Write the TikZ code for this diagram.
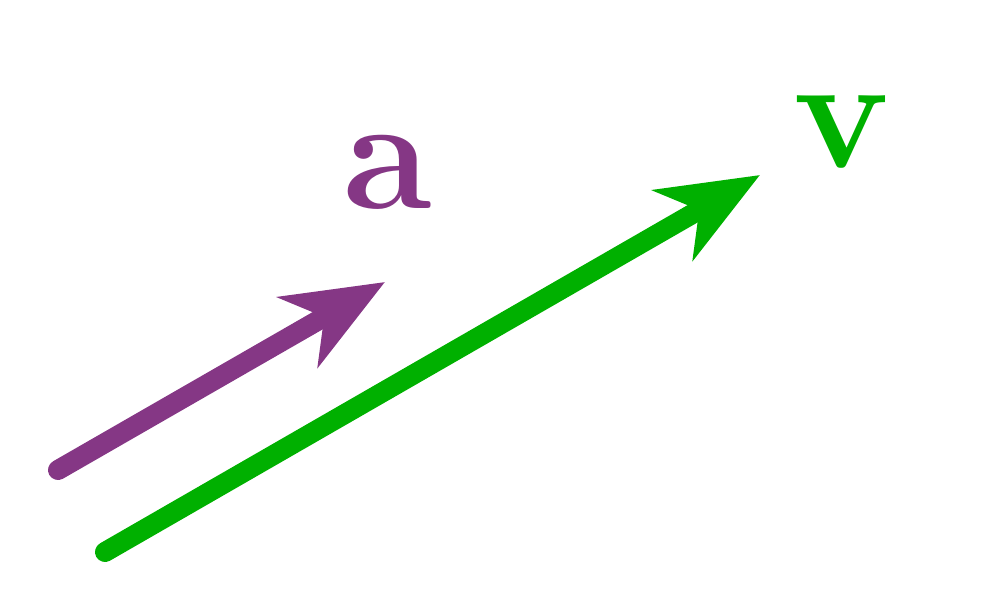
\documentclass[tikz,border=0pt]{standalone}
\usetikzlibrary{arrows.meta}
\definecolor{pur}{RGB}{133,55,133}
\definecolor{grn}{RGB}{0,176,0}
\begin{document}
\begin{tikzpicture}[x=0.01cm,y=-0.01cm,
  vec/.style={line width=0.2cm,line cap=round,-{Stealth[length=1.0cm,width=0.8cm,inset=0.3cm]}},
  lbl/.style={font=\fontsize{46}{50}\selectfont\bfseries}]
\useasboundingbox (0,0) rectangle (1000,612);
\coordinate (a0) at (58,470);
\coordinate (a1) at (385,282);
\coordinate (v0) at (105,552);
\coordinate (v1) at (760,175);
\draw[vec,pur] (a0) -- (a1);
\draw[vec,grn] (v0) -- (v1);
\node[lbl,text=pur] (la) at (388,172) {a};
\node[lbl,text=grn] (lv) at (842,132) {v};
\end{tikzpicture}
\end{document}
